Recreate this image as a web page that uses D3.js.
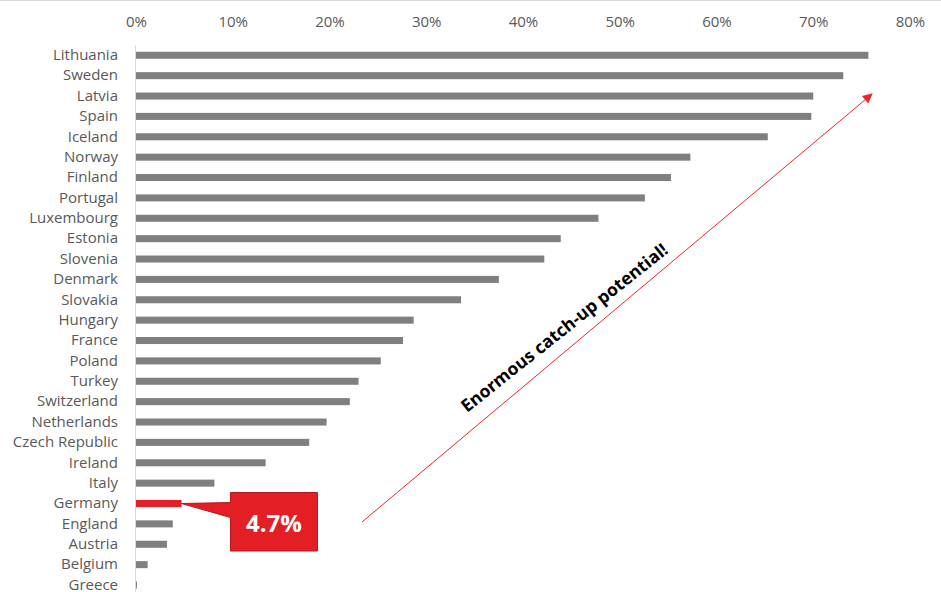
<!DOCTYPE html>
<html>
<head>
<meta charset="utf-8">
<script src="https://cdn.jsdelivr.net/npm/d3@7"></script>
<style>
  html, body { margin: 0; padding: 0; background: #ffffff; }
  svg { display: block; font-family: "Open Sans", sans-serif; }
</style>
</head>
<body>
<svg id="chart" width="941" height="592"></svg>
<script>
// Share of the indicator by country, sorted from highest to lowest
const countries = [
  "Lithuania", "Sweden", "Latvia", "Spain", "Iceland", "Norway", "Finland",
  "Portugal", "Luxembourg", "Estonia", "Slovenia", "Denmark", "Slovakia",
  "Hungary", "France", "Poland", "Turkey", "Switzerland", "Netherlands",
  "Czech Republic", "Ireland", "Italy", "Germany", "England", "Austria",
  "Belgium", "Greece"
];
const shares = [
  0.757, 0.731, 0.700, 0.698, 0.653, 0.573, 0.553,
  0.526, 0.478, 0.439, 0.422, 0.375, 0.336,
  0.287, 0.276, 0.253, 0.230, 0.221, 0.197,
  0.179, 0.134, 0.081, 0.047, 0.038, 0.032,
  0.012, 0.001
];
const xTicks = [0, 0.1, 0.2, 0.3, 0.4, 0.5, 0.6, 0.7, 0.8];
const highlight = "Germany";
const annotationText = "Enormous catch-up potential!";

const data = countries.map((c, i) => ({ country: c, value: shares[i] }));

const svg = d3.select("#chart");

const x = d3.scaleLinear().domain([0, 0.8]).range([136, 910]);
const y = d3.scaleBand()
  .domain(countries)
  .range([45.1, 595.2])
  .paddingInner(0.655)
  .paddingOuter(0.3275);

// thin frame line along the top edge
svg.append("line")
  .attr("x1", 0).attr("x2", 941)
  .attr("y1", 0.5).attr("y2", 0.5)
  .attr("stroke", "#d9d9d9").attr("stroke-width", 1);

// percentage axis on top
const xAxis = svg.append("g")
  .attr("transform", "translate(0,30)")
  .call(d3.axisTop(x).tickValues(xTicks).tickSize(0).tickPadding(3).tickFormat(d3.format(".0%")));
xAxis.select(".domain").remove();
xAxis.selectAll("text")
  .attr("fill", "#595959")
  .style("font-size", "15px")
  .style("font-family", "'Open Sans', sans-serif");

// category axis
const yAxis = svg.append("g")
  .attr("transform", `translate(${x(0)},0)`)
  .call(d3.axisLeft(y).tickSize(0).tickPadding(18));
yAxis.select(".domain").remove();
yAxis.selectAll("text")
  .attr("fill", "#595959")
  .style("font-size", "15px")
  .style("font-family", "'Open Sans', sans-serif");

svg.append("line")
  .attr("x1", x(0) - 0.5).attr("x2", x(0) - 0.5)
  .attr("y1", y.range()[0]).attr("y2", y.range()[1])
  .attr("stroke", "#d9d9d9").attr("stroke-width", 1);

// bars
svg.append("g").selectAll("rect")
  .data(data)
  .join("rect")
  .attr("x", x(0))
  .attr("y", d => y(d.country))
  .attr("width", d => x(d.value) - x(0))
  .attr("height", y.bandwidth())
  .attr("fill", d => d.country === highlight ? "#e31e24" : "#7f7f7f");

// callout for the highlighted country
const hl = data.find(d => d.country === highlight);
const tipX = x(hl.value);
const tipY = y(hl.country) + y.bandwidth() / 2;
const boxL = tipX + 49, boxR = tipX + 136;
const boxT = tipY - 11, boxB = tipY + 47.5;
const callout = d3.path();
callout.moveTo(boxL, boxT);
callout.lineTo(boxR, boxT);
callout.lineTo(boxR, boxB);
callout.lineTo(boxL, boxB);
callout.lineTo(boxL, tipY + 14);
callout.lineTo(tipX, tipY);
callout.lineTo(boxL, tipY - 1);
callout.closePath();
svg.append("path")
  .attr("d", callout.toString())
  .attr("fill", "#e41e25")
  .attr("stroke", "#b01a1e")
  .attr("stroke-width", 1);
svg.append("text")
  .attr("x", (boxL + boxR) / 2)
  .attr("y", boxT + 39.5)
  .attr("text-anchor", "middle")
  .attr("fill", "#ffffff")
  .style("font-size", "24px")
  .style("font-weight", "bold")
  .text(d3.format(".1%")(hl.value));

// trend arrow
const defs = svg.append("defs");
defs.append("marker")
  .attr("id", "arrowhead")
  .attr("viewBox", "0 0 10 10")
  .attr("refX", 9).attr("refY", 5)
  .attr("markerWidth", 12).attr("markerHeight", 10)
  .attr("markerUnits", "userSpaceOnUse")
  .attr("orient", "auto")
  .append("path")
  .attr("d", "M0,0 L10,5 L0,10 Z")
  .attr("fill", "#e8262b");

svg.append("line")
  .attr("x1", 362).attr("y1", 522)
  .attr("x2", 872).attr("y2", 94)
  .attr("stroke", "#e8262b")
  .attr("stroke-width", 1)
  .attr("marker-end", "url(#arrowhead)");

svg.append("text")
  .attr("transform", "translate(467,413) rotate(-38.5)")
  .attr("fill", "#000000")
  .style("font-size", "17.5px")
  .style("font-weight", "bold")
  .text(annotationText);
</script>
</body>
</html>
